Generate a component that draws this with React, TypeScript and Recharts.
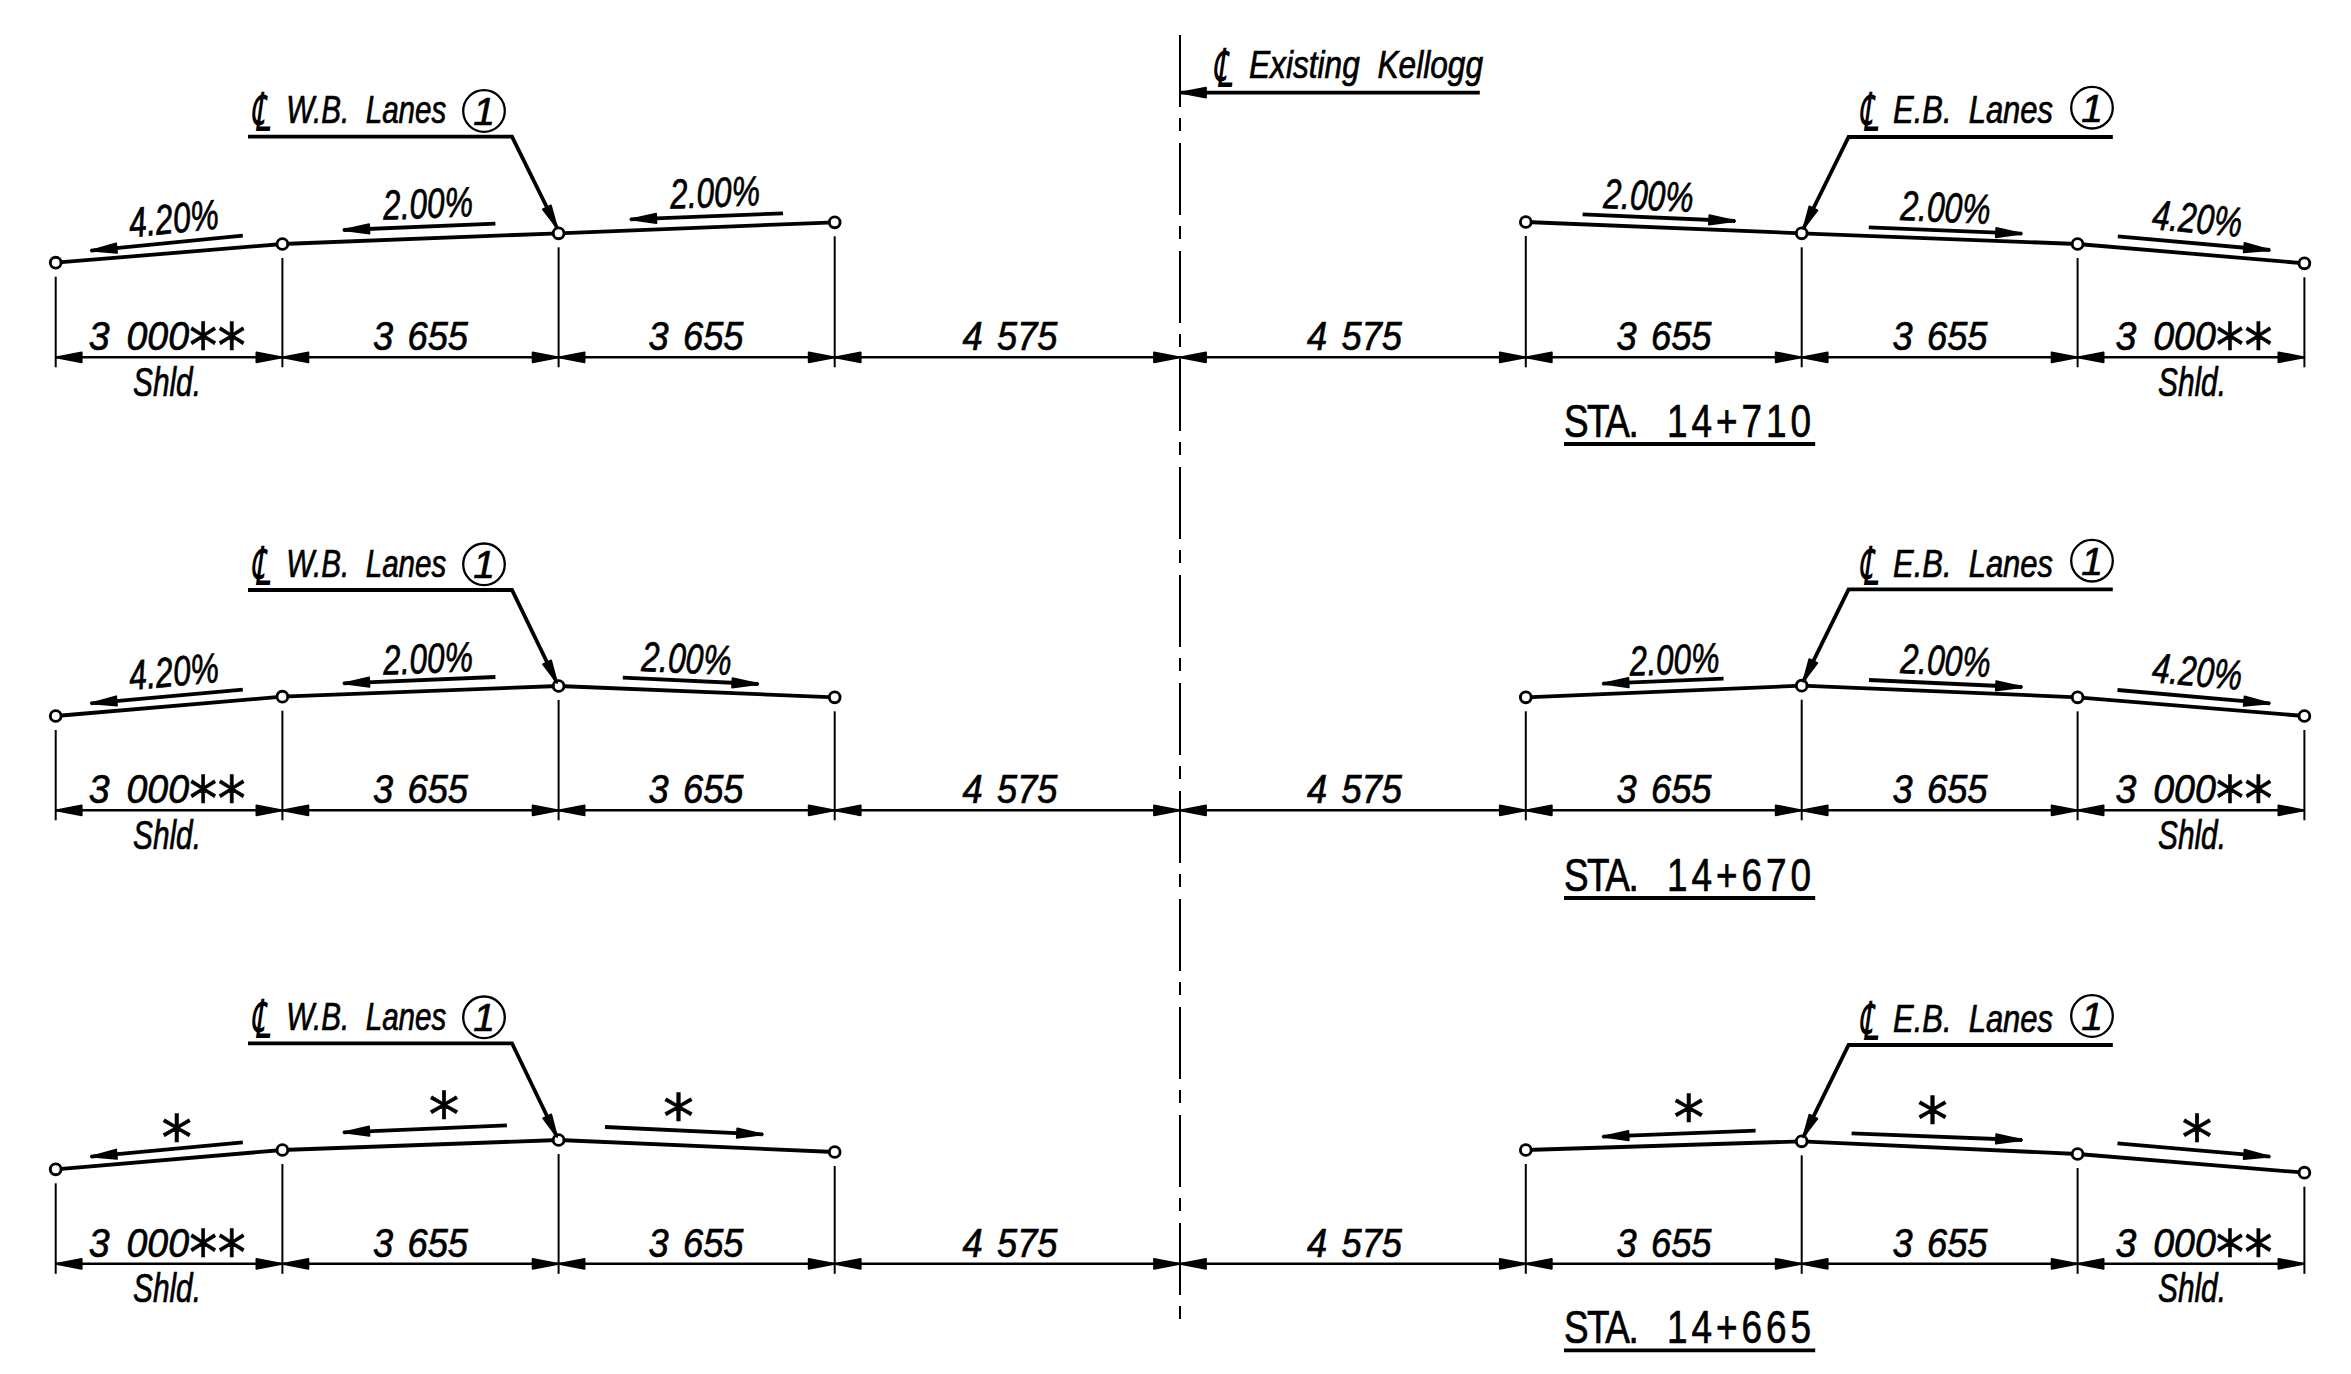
import React from "react";
import { ComposedChart, Line, Scatter, XAxis, YAxis } from "recharts";

const SHEET_W = 2351;
const SHEET_H = 1374;

// Stations along the road
const westX = [55.7, 282.4, 558.6, 834.7];
const centreX = 1180;
const eastX = [1525.8, 1801.7, 2077.6, 2304.4];
const allX = [...westX, centreX, ...eastX];

// Pavement elevation per section
const westProfile = [
  [262.7, 244, 233.3, 222.3],
  [716, 696.7, 686, 697.3],
  [1169.3, 1150, 1140, 1152],
];
const eastProfile = [
  [222, 233.3, 244, 263.3],
  [697.3, 685.7, 697.3, 716],
  [1150, 1141.3, 1154, 1172.7],
];
const dimLineY = [357.3, 810.3, 1263.8];

// Text
const stationPrefix = "STA.";
const stationNames = ["14+710", "14+670", "14+665"];
const spanTexts = ["3 000", "3 655", "3 655", "4 575", "4 575", "3 655", "3 655", "3 000"];
const spanCentres = [167.3, 420.5, 696, 1010, 1354.5, 1664, 1940, 2194];
const shoulderCentres = [167, 2192];
const westLeaderText = "W.B.  Lanes";
const eastLeaderText = "E.B.  Lanes";
const existingText = "Existing  Kellogg";

// Slope arrows: tail x, tail y, tip x, tip y, label, label x, label baseline
const slopeArrows: [number, number, number, number, string, number, number][] = [
  [242.8, 235.7, 90.7, 250.7, "4.20%", 175, 233],
  [495.4, 223.7, 343.3, 230, "2.00%", 428.5, 218],
  [783, 213.3, 630.3, 219.3, "2.00%", 715.5, 207],
  [1582.6, 214.3, 1735.1, 221, "2.00%", 1648, 210],
  [1868.8, 227.3, 2022, 233.7, "2.00%", 1945, 222],
  [2117.8, 236.3, 2270, 250, "4.20%", 2196, 233],

  [242.8, 689.7, 90.7, 703.3, "4.20%", 175, 686],
  [495.4, 677, 343.3, 683.3, "2.00%", 428.5, 673],
  [622.8, 677.7, 758.3, 684, "2.00%", 686, 673],
  [1723.5, 678.7, 1602.6, 683.7, "2.00%", 1675, 674],
  [1869, 680, 2022, 687, "2.00%", 1945, 675],
  [2117.5, 690, 2270, 703.3, "4.20%", 2196, 686],

  [242.8, 1142.3, 90.7, 1156.7, "*", 176.8, 1143],
  [506.9, 1125.3, 343.3, 1132.3, "*", 444, 1120],
  [605, 1127, 763, 1134.3, "*", 678.5, 1122],
  [1755.6, 1130.7, 1602.6, 1136.7, "*", 1688.8, 1123],
  [1851.6, 1133.3, 2022, 1140, "*", 1932.4, 1125],
  [2117.5, 1143.3, 2270, 1156.7, "*", 2197, 1143],
];

// Leaders per section
const westLeaderY = [136.7, 590, 1043.3];
const westLeaderTipY = [228, 683, 1137];
const eastLeaderY = [137, 589.3, 1045];
const eastLeaderTipY = [229, 681.7, 1137.3];
const westLabelBase = [123.3, 576.7, 1030];
const eastLabelBase = [123.3, 577.3, 1031.7];
const westBubbleY = [111, 564.3, 1017.3];
const eastBubbleY = [107.7, 560.7, 1016];
const stationBase = [436.7, 890.7, 1343];

type P = { x: number; y: number };
type Mark = P & { kind: string; text?: string; angle?: number };

const poly = (...c: number[]): P[] => {
  const out: P[] = [];
  for (let i = 0; i < c.length; i += 2) out.push({ x: c[i], y: c[i + 1] });
  return out;
};
const deg = (dx: number, dy: number) => (Math.atan2(dy, dx) * 180) / Math.PI;

const thick: P[][] = [];
const medium: P[][] = [];
const thin: P[][] = [];
const heads: Mark[] = [];
const circles: P[] = [];
const labels: Mark[] = [];

dimLineY.forEach((dy, r) => {
  medium.push(allX.map((x) => ({ x, y: dy })));
  const endY = dy + 10;
  westX.forEach((x, i) => {
    const h = westProfile[r][i];
    thin.push(poly(x, h + 14, x, endY));
    circles.push({ x, y: h });
  });
  eastX.forEach((x, i) => {
    const h = eastProfile[r][i];
    thin.push(poly(x, h + 14, x, endY));
    circles.push({ x, y: h });
  });
  thick.push(westX.map((x, i) => ({ x, y: westProfile[r][i] })));
  thick.push(eastX.map((x, i) => ({ x, y: eastProfile[r][i] })));

  allX.forEach((x, i) => {
    if (i > 0) heads.push({ x, y: dy, kind: "dim", angle: 0 });
    if (i < allX.length - 1) heads.push({ x, y: dy, kind: "dim", angle: 180 });
  });

  spanTexts.forEach((t, i) => {
    labels.push({ x: spanCentres[i], y: dy - 7.3, kind: t === "3 000" ? "shoulderDim" : "dim", text: t });
  });
  shoulderCentres.forEach((x) => labels.push({ x, y: dy + 38.5, kind: "shld", text: "Shld." }));

  // west leader
  const wTipX = westX[2] - 1.5;
  thick.push(poly(248, westLeaderY[r], 512, westLeaderY[r], wTipX, westLeaderTipY[r]));
  heads.push({ x: wTipX, y: westLeaderTipY[r], kind: "leader", angle: deg(wTipX - 512, westLeaderTipY[r] - westLeaderY[r]) });
  labels.push({ x: 260, y: westLabelBase[r] + 8, kind: "cl", text: "\u2104" });
  labels.push({ x: 366.3, y: westLabelBase[r], kind: "lead", text: westLeaderText });
  labels.push({ x: 484, y: westBubbleY[r], kind: "bubble", text: "1" });

  // east leader
  const eTipX = eastX[1] + 1.5;
  thick.push(poly(2112.8, eastLeaderY[r], 1848.6, eastLeaderY[r], eTipX, eastLeaderTipY[r]));
  heads.push({ x: eTipX, y: eastLeaderTipY[r], kind: "leader", angle: deg(eTipX - 1848.6, eastLeaderTipY[r] - eastLeaderY[r]) });
  labels.push({ x: 1868, y: eastLabelBase[r] + 8, kind: "cl", text: "\u2104" });
  labels.push({ x: 1973, y: eastLabelBase[r], kind: "lead", text: eastLeaderText });
  labels.push({ x: 2092, y: eastBubbleY[r], kind: "bubble", text: "1" });

  // station title
  labels.push({ x: 1689.5, y: stationBase[r], kind: "sta", text: stationNames[r] });
  thick.push(poly(1564, stationBase[r] + 7.3, 1815.2, stationBase[r] + 7.3));
});

slopeArrows.forEach(([x0, y0, x1, y1, text, lx, ly]) => {
  thick.push(poly(x0, y0, x1, y1));
  const angle = deg(x1 - x0, y1 - y0);
  heads.push({ x: x1, y: y1, kind: "slope", angle });
  const rot = x1 < x0 ? angle - 180 : angle;
  labels.push({ x: lx, y: ly, kind: text === "*" ? "star" : "slope", text, angle: rot });
});

// Existing Kellogg callout
thick.push(poly(1479.8, 92.7, centreX, 92.7));
heads.push({ x: centreX, y: 92.7, kind: "dim", angle: 180 });
labels.push({ x: 1222, y: 86.5, kind: "cl", text: "\u2104" });
labels.push({ x: 1366, y: 78.3, kind: "existing", text: existingText });

const centreLine = poly(centreX, 35, centreX, 1319.5);
const domainAnchors = poly(0, 0, SHEET_W, SHEET_H);

const headSize: Record<string, [number, number]> = {
  dim: [26, 10],
  slope: [26, 9.5],
  leader: [23, 9],
};

const NARROW = '"Liberation Sans Narrow", "Liberation Sans", sans-serif';

const textStyle: Record<string, { size: number; width: number; gap: number }> = {
  dim: { size: 41, width: 95, gap: 5 },
  shoulderDim: { size: 41, width: 157, gap: 7 },
  shld: { size: 41, width: 68, gap: 0 },
  slope: { size: 42, width: 90, gap: 0 },
  lead: { size: 38, width: 160, gap: 0 },
  existing: { size: 38, width: 234, gap: 0 },
  sta: { size: 47, width: 251, gap: 6 },
};

const HeadShape = (p: any) => {
  const [len, wid] = headSize[p.payload.kind];
  const { cx, cy } = p;
  return (
    <polygon
      points={`0,0 ${-len},${-wid / 2} ${-len},${wid / 2}`}
      transform={`translate(${cx} ${cy}) rotate(${p.payload.angle})`}
      fill="#000"
      stroke="#000"
      strokeWidth={1.8}
      strokeLinejoin="round"
    />
  );
};

const DotShape = (p: any) => <circle cx={p.cx} cy={p.cy} r={5.4} fill="#fff" stroke="#000" strokeWidth={2.9} />;

const weight = { stroke: "#000", strokeWidth: 0.7 };

const LabelShape = (p: any) => {
  const { cx, cy } = p;
  const { kind, text, angle } = p.payload as Mark;
  const tf = angle ? `rotate(${angle} ${cx} ${cy})` : undefined;
  if (kind === "bubble") {
    return (
      <g>
        <circle cx={cx} cy={cy} r={20.8} fill="#fff" stroke="#000" strokeWidth={2.3} />
        <text x={cx} y={cy + 14} textAnchor="middle" fontFamily={NARROW} fontStyle="italic" fontSize={39} fill="#000" {...weight}>
          {text}
        </text>
      </g>
    );
  }
  if (kind === "cl") {
    return (
      <text
        textAnchor="middle"
        transform={`translate(${cx} ${cy}) skewX(-8) scale(0.85 1.5)`}
        fontFamily='"DejaVu Sans"'
        fontSize={36}
        fill="#000"
      >
        {text}
      </text>
    );
  }
  if (kind === "star") {
    return (
      <text
        x={cx}
        y={cy + 17}
        textAnchor="middle"
        fontFamily='"DejaVu Sans"'
        fontStyle="italic"
        fontSize={62}
        fill="#000"
        stroke="#000"
        strokeWidth={0.6}
      >
        {text}
      </text>
    );
  }
  const st = textStyle[kind];
  const common: any = {
    x: cx - st.width / 2,
    y: cy,
    textAnchor: "start",
    fontFamily: NARROW,
    fontSize: st.size,
    fill: "#000",
    fontStyle: kind === "sta" ? "normal" : "italic",
    textLength: st.width,
    lengthAdjust: "spacingAndGlyphs",
    transform: tf,
    style: { whiteSpace: "pre", wordSpacing: st.gap },
    ...weight,
  };
  if (kind === "shoulderDim") {
    return (
      <text {...common}>
        {text}
        <tspan fontFamily='"DejaVu Sans"' fontStyle="italic" fontSize={62} dy={18} strokeWidth={0.6}>
          **
        </tspan>
      </text>
    );
  }
  if (kind === "sta") {
    return (
      <text {...common}>
        <tspan style={{ letterSpacing: -2 }}>{stationPrefix}</tspan>
        {"  "}
        <tspan style={{ letterSpacing: 5 }}>{text}</tspan>
      </text>
    );
  }
  return <text {...common}>{text}</text>;
};

const lineOf = (pts: P[], key: string, width: number, dash?: string) => (
  <Line
    key={key}
    data={pts}
    dataKey="y"
    stroke="#000"
    strokeWidth={width}
    strokeDasharray={dash}
    dot={false}
    activeDot={false}
    legendType="none"
    isAnimationActive={false}
    type="linear"
  />
);

export default function App() {
  return (
    <div style={{ position: "absolute", left: 0, top: 0, width: SHEET_W, height: SHEET_H, background: "#fff" }}>
      <ComposedChart width={SHEET_W} height={SHEET_H} margin={{ top: 0, right: 0, bottom: 0, left: 0 }} data={domainAnchors}>
        <XAxis type="number" dataKey="x" domain={[0, SHEET_W]} allowDataOverflow hide />
        <YAxis type="number" dataKey="y" domain={[0, SHEET_H]} reversed allowDataOverflow hide />
        {lineOf(centreLine, "centre", 2, "72 11 13 12")}
        {thin.map((p, i) => lineOf(p, `thin${i}`, 2))}
        {medium.map((p, i) => lineOf(p, `med${i}`, 2.6))}
        {thick.map((p, i) => lineOf(p, `thick${i}`, 3.8))}
        <Scatter data={circles} dataKey="y" shape={DotShape} isAnimationActive={false} legendType="none" />
        <Scatter data={heads} dataKey="y" shape={HeadShape} isAnimationActive={false} legendType="none" />
        <Scatter data={labels} dataKey="y" shape={LabelShape} isAnimationActive={false} legendType="none" />
      </ComposedChart>
    </div>
  );
}
